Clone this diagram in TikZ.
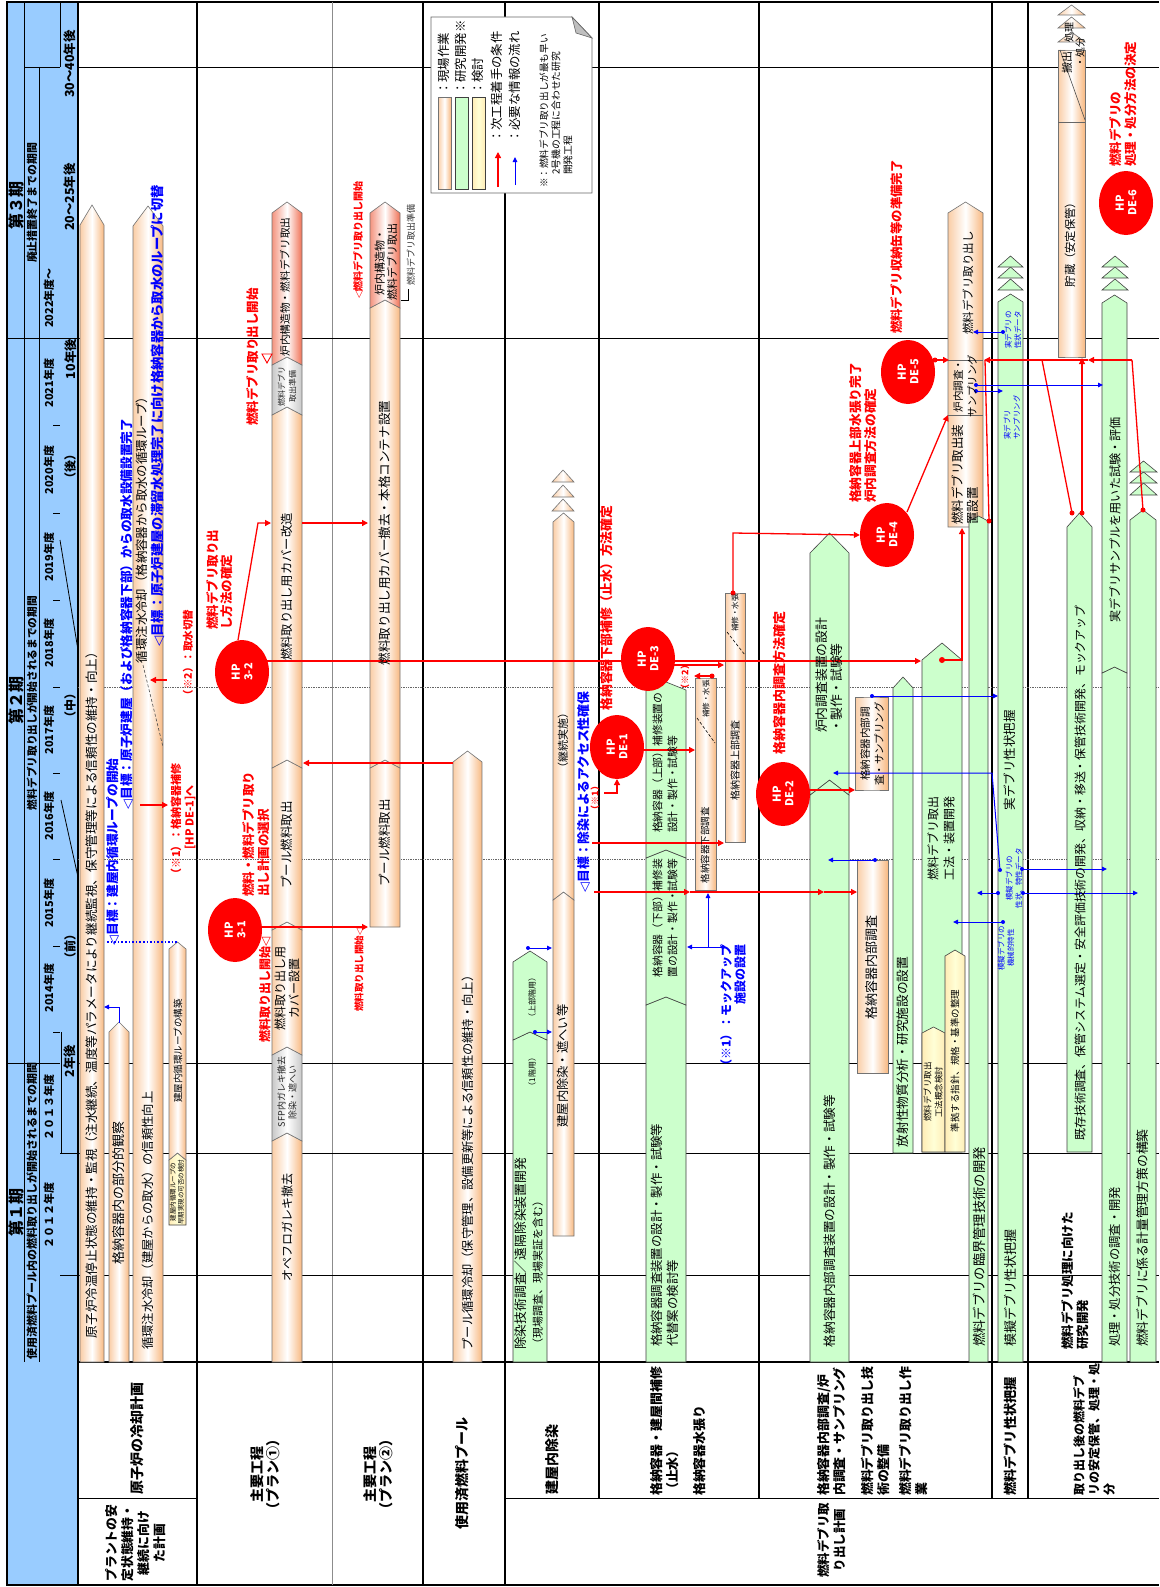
\documentclass[tikz,border=0pt]{standalone}
\usepackage{fontspec}
\setmainfont{Noto Sans CJK JP}
\newfontfamily\dvfont{DejaVu Sans}
\usetikzlibrary{shapes.geometric,arrows.meta}
\pgfdeclarelayer{grid}
\pgfdeclarelayer{bars}
\pgfdeclarelayer{arrows}
\pgfsetlayers{grid,bars,arrows,main}

\definecolor{hdrblue}{RGB}{153,204,255}
\definecolor{orgedge}{RGB}{248,184,128}
\definecolor{rededge}{RGB}{240,112,84}
\definecolor{grnfill}{RGB}{204,255,204}
\definecolor{ylwfill}{RGB}{255,255,214}
\definecolor{gryedge}{RGB}{200,200,200}

\newcommand{\fz}[2]{\fontsize{#1}{#2}\selectfont}
\newcommand{\dn}{{\dvfont ◁}}
% bar segment: style, x1, x2, bottom, shoulder, bottom notch depth, top tip height
\newcommand{\barseg}[7][]{\path[#1] (#2,#4) -- (#2,#5) -- ({(#2+#3)/2},{#5-#7}) -- (#3,#5) -- (#3,#4) -- ({(#2+#3)/2},{#4-#6}) -- cycle;}
% small continuation triangle: style, x1, x2, base, height
\newcommand{\stri}[5][]{\path[#1] (#2,#4) -- ({(#2+#3)/2},{#4-#5}) -- (#3,#4) -- cycle;}

\tikzset{
  bt/.style={rotate=90, inner sep=0pt, font=\fz{#1}{15}}, bt/.default=12.5,
  rbt/.style={rotate=90, inner sep=0pt, text=red, font=\bfseries\fz{#1}{15}}, rbt/.default=12.5,
  bbt/.style={rotate=90, inner sep=0pt, text=blue, font=\bfseries\fz{#1}{15}}, bbt/.default=12.5,
  hdt/.style={rotate=90, inner sep=0pt, font=\bfseries\fz{#1}{14}}, hdt/.default=11,
  cat/.style={rotate=90, inner sep=0pt, font=\bfseries\fz{#1}{16}}, cat/.default=13,
  sbt/.style={rotate=90, inner sep=0pt, text=blue, align=center, font=\fz{7.5}{9.5}},
  orgbar/.style={draw=black!55, line width=0.6pt, left color=orgedge!70, right color=orgedge, middle color=white},
  redbar/.style={draw=black!55, line width=0.6pt, left color=rededge!75, right color=rededge, middle color=white},
  grnbar/.style={draw=black!75, line width=0.6pt, fill=grnfill},
  ylwbar/.style={draw=black!75, line width=0.6pt, left color=ylwfill!85!orange, right color=ylwfill!85!orange, middle color=ylwfill},
  grybar/.style={draw=black!55, line width=0.6pt, left color=gryedge, right color=gryedge, middle color=white},
  redarr/.style={draw=red, line width=1.3pt, -{Triangle[length=6pt,width=6pt]}},
  redln/.style={draw=red, line width=1.3pt},
  bluarr/.style={draw=blue, line width=1pt, -{Triangle[length=5pt,width=4.5pt]}},
  hp/.style={ellipse, fill=red, text=white, rotate=90, inner sep=0pt, minimum width=64pt, minimum height=54pt, align=center, font=\bfseries\fz{11}{12.5}},
}

\begin{document}
\begin{tikzpicture}[x=1pt,y=-1pt]
\useasboundingbox (0,0) rectangle (1159,1587);

% ---------------- table grid ----------------
\begin{pgfonlayer}{grid}
\fill[white] (0,0) rectangle (1159,1587);
\fill[hdrblue] (7,2) rectangle (78,1585);
\draw[line width=2pt] (1159,2) -- (7,2) -- (7,1585) -- (1159,1585);
\draw[line width=2pt] (78,2) -- (78,1585);
\draw[line width=1.8pt] (197,2) -- (197,1585);
\draw[line width=0.8pt, black!45] (332,2) -- (332,1585);
\draw[line width=1.2pt] (423,2) -- (423,1585);
\draw[line width=1.2pt] (505,2) -- (505,1585);
\foreach \x in {599,759,992,1028} \draw[line width=1.2pt] (\x,2) -- (\x,1498);
\draw[line width=0.8pt] (24,2) -- (24,1362);
\draw[line width=0.8pt] (39.5,67) -- (39.5,1362);
\draw[line width=0.8pt] (60,2) -- (60,67);
\draw[line width=0.8pt] (24,67) -- (60,67);
\draw[line width=0.8pt] (78,67) -- (1159,67);
\draw[line width=1pt] (7,338) -- (1159,338);
\draw[line width=1pt] (7,1063) -- (60,1063);
\draw[line width=1pt] (78,1063) -- (1159,1063);
\draw[line width=0.8pt] (60,1153) -- (1159,1153);
\draw[line width=0.8pt] (60,1275) -- (1159,1275);
\draw[line width=0.7pt, black!60, densely dotted] (78,687) -- (1159,687);
\draw[line width=0.7pt, black!60, densely dotted] (78,859) -- (1159,859);
\draw[line width=1.2pt] (78,1362) -- (1159,1362);
\draw[line width=1pt] (78,1498) -- (197,1498);
\draw[line width=1pt] (505,1498) -- (1159,1498);
\foreach \y in {1032,946,859,773,687,600,513,425} \draw[line width=0.8pt] (53,\y) -- (60,\y);
\draw[line width=0.8pt] (61,1032) -- (61,1153);
\draw[line width=0.8pt] (60,540) -- (78,650);
\draw[line width=0.8pt] (61,800) -- (78,877);
\end{pgfonlayer}

% ---------------- header texts ----------------
\node[hdt=16] at (16,1212) {第１期};
\node[hdt=16] at (16,700) {第２期};
\node[hdt=16] at (16,205) {第３期};
\node[hdt=11] at (32,1211) {使用済燃料プール内の燃料取り出しが開始されるまでの期間};
\node[hdt=10.7] at (32,703) {燃料デブリ取り出しが開始されるまでの期間};
\node[hdt=10.9] at (32,203) {廃止措置終了までの期間};
\node[hdt=11] at (49,1215) {２０１２年度};
\node[hdt=11] at (49,1107) {２０１３年度};
\node[hdt=11] at (49,988) {2014年度};
\node[hdt=11] at (49,903) {2015年度};
\node[hdt=11] at (49,816) {2016年度};
\node[hdt=11] at (49,730) {2017年度};
\node[hdt=11] at (49,643) {2018年度};
\node[hdt=11] at (49,557) {2019年度};
\node[hdt=11] at (49,470) {2020年度};
\node[hdt=11] at (49,383) {2021年度};
\node[hdt=11] at (49,298) {2022年度～};
\node[hdt=12.5] at (70,1061) {2年後};
\node[hdt=12] at (70,946) {（前）};
\node[hdt=12] at (70,705) {（中）};
\node[hdt=12] at (70,466) {（後）};
\node[hdt=12.5] at (71,359) {10年後};
\node[hdt=12.5] at (70,197) {20～25年後};
\node[hdt=12.5] at (70,64) {30～40年後};

% ---------------- bars ----------------
\begin{pgfonlayer}{bars}
% reactor cooling
\barseg[orgbar]{80}{104}{1362}{225}{0}{20}
\barseg[orgbar]{109}{129}{1362}{1032}{0}{10}
\barseg[orgbar]{133}{163}{1362}{226}{0}{20}
\draw[densely dashed, black!70, line width=0.6pt] (143,665) -- (163,747);
\barseg[ylwbar]{169}{186}{1225}{1160}{0}{7}
\barseg[orgbar]{169}{186}{1160}{949}{7}{7}
% main process plan 1
\barseg[orgbar]{272}{302}{1362}{1141}{0}{8}
\barseg[grybar]{272}{302}{1141}{1055}{8}{8}
\barseg[orgbar]{272}{302}{1055}{930}{8}{8}
\barseg[orgbar]{272}{302}{930}{768}{8}{8}
\barseg[orgbar]{272}{302}{768}{415}{8}{8}
\barseg[grybar]{272}{302}{415}{365}{8}{8}
\barseg[redbar]{272}{302}{365}{213}{8}{11}
% main process plan 2
\barseg[orgbar]{370}{400}{927}{768}{0}{8}
\barseg[orgbar]{370}{400}{768}{308}{8}{8}
\barseg[redbar]{370}{400}{308}{213}{8}{11}
% spent fuel pool
\barseg[orgbar]{453}{482}{1362}{762}{0}{11}
% decontamination
\barseg[grnbar]{513}{547}{1362}{1040}{0}{8}
\barseg[grnbar]{513}{547}{1040}{962}{8}{11}
\barseg[orgbar]{553}{574}{1236}{900}{0}{8}
\barseg[orgbar]{553}{574}{900}{522}{8}{9}
\stri[orgbar]{552}{574}{511}{12}
\stri[orgbar]{552}{574}{497}{12}
\stri[orgbar]{552}{574}{482}{12}
% containment repair
\barseg[grnbar]{646}{686}{1362}{1005}{0}{8}
\barseg[grnbar]{646}{686}{1005}{858}{8}{8}
\barseg[grnbar]{646}{686}{858}{690}{8}{8}
\barseg[orgbar]{695}{716}{890}{678}{0}{0}
\draw[densely dashed, line width=0.6pt] (697,718) -- (715,743);
\barseg[orgbar]{725}{745}{842}{593}{0}{0}
\draw[densely dashed, line width=0.6pt] (727,632) -- (745,655);
% investigation / retrieval
\barseg[grnbar]{810}{849}{1362}{795}{0}{15}
\barseg[grnbar]{810}{849}{795}{553}{15}{20}
\barseg[orgbar]{855}{888}{790}{697}{0}{0}
\barseg[orgbar]{857}{888}{1073}{860}{0}{0}
\barseg[grnbar]{893}{913}{1153}{688}{0}{11}
\barseg[grnbar]{922}{962}{1152}{660}{0}{17}
\barseg[ylwbar]{922}{945}{1152}{1033}{0}{6}
\barseg[ylwbar]{945}{965}{1152}{956}{0}{6}
\barseg[orgbar]{948}{983}{527}{213}{0}{11}
\draw[black!60, line width=0.6pt] (948,415) -- (983,415);
\draw[black!60, line width=0.6pt] (948,360) -- (983,360);
\barseg[grnbar]{969}{988}{1362}{521}{0}{5}
% debris characterisation
\barseg[grnbar]{998}{1023}{1362}{302}{0}{8}
\stri[grnbar]{998}{1023}{290}{11}
\stri[grnbar]{998}{1023}{278}{11}
\stri[grnbar]{998}{1023}{267}{11}
% storage / processing
\barseg[orgbar]{1058}{1085}{357}{50}{0}{0}
\draw[black!60, line width=0.8pt] (1058,122) -- (1085,122);
\draw[black!70, line width=0.6pt] (1060,50) -- (1085,120);
\stri[orgbar]{1058}{1085}{42}{10}
\stri[orgbar]{1058}{1085}{28}{11}
\stri[orgbar]{1058}{1085}{15}{10}
\barseg[grnbar]{1067}{1092}{1152}{527}{0}{14}
\barseg[grnbar]{1102}{1127}{1362}{673}{0}{6}
\barseg[grnbar]{1102}{1127}{673}{303}{6}{8}
\stri[grnbar]{1102}{1128}{290}{11}
\stri[grnbar]{1102}{1128}{278}{11}
\stri[grnbar]{1102}{1128}{267}{11}
\barseg[grnbar]{1130}{1156}{1362}{520}{0}{10}
\stri[grnbar]{1130}{1157}{495}{12}
\stri[grnbar]{1130}{1157}{483}{11}
\stri[grnbar]{1130}{1157}{472}{11}
% legend
\path[draw=black!60, fill=white, line width=0.8pt] (431,17) -- (572,17) -- (592,38) -- (592,193) -- (431,193) -- cycle;
\path[draw=black!60, fill=black!25, line width=0.6pt] (572,17) -- (576,33) -- (592,38) -- cycle;
\path[orgbar] (438,97) rectangle (451,189);
\path[grnbar] (455,97) rectangle (468,189);
\path[ylwbar] (472,97) rectangle (485,189);
\end{pgfonlayer}

% ---------------- hold points ----------------
\node[hp] (hp31) at (235,930) {HP\\3-1};
\node[hp] (hp32) at (242,672) {HP\\3-2};
\node[hp] (hpde1) at (617,747) {HP\\DE-1};
\node[hp] (hpde3) at (648,659) {HP\\DE-3};
\node[hp] (hpde2) at (783,794) {HP\\DE-2};
\node[hp] (hpde4) at (887,535) {HP\\DE-4};
\node[hp] (hpde5) at (908,372) {HP\\DE-5};
\node[hp] (hpde6) at (1126,203) {HP\\DE-6};

% ---------------- connectors ----------------
\begin{pgfonlayer}{arrows}
\draw[redarr] (hp31.center) ++(0,-3) -- (368,927);
\draw[redarr] (hp32.center) ++(0,-11) -- (921,661);
\draw[redarr] (hp32.center) ++(-4,-32) -- (258,523) -- (271,523);
\draw[redarr] (302,523) -- (368,523);
\draw[redarr] (453,763) -- (303,763);
\draw[redarr] (140,805) -- (168,805);
\draw[redarr] (167,680) -- (150,680);
\draw[bluarr] (119,1023) -- (119,1007) -- (104,1007);
\draw[blue, line width=1.6pt, dotted] (107,942) -- (178,942);
\fill[blue] (528,948) circle (2); \draw[bluarr] (528,948) -- (552,948);
\fill[blue] (535,1032) circle (2); \draw[bluarr] (535,1032) -- (552,1032);
\draw[redarr] (592,843) -- (724,843);
\draw[redarr] (594,892) -- (690,892);
\draw[redarr] (690,892) -- (824,892);
\draw[redarr] (824,892) -- (857,892);
\draw[redarr] (604,793) -- (617,793) -- (617,779);
\draw[redarr] (hpde1.center) ++(0,3) -- (695,750);
\draw[redarr] (hpde3.center) ++(0,6) -- (724,665);
\fill[red] (712,676) circle (2.5); \draw[redarr] (712,676) -- (694,676);
\fill[red] (733,593) circle (2.5); \draw[redarr] (733,593) -- (733,533) -- (hpde4.north);
\draw[redarr] (hpde4.center) ++(20,-23) -- (948,415);
\fill[red] (935,360) circle (2.5); \draw[redarr] (935,360) -- (949,360);
\draw[redarr] (hpde2.center) ++(0,-4) -- (855,790);
\fill[red] (942,660) circle (3); \draw[redarr] (942,660) -- (962,660) -- (962,528);
\fill[blue] (872,696) circle (2); \draw[bluarr] (872,696) -- (998,696);
\fill[blue] (875,860) circle (2); \draw[bluarr] (875,860) -- (828,860);
\fill[blue] (1000,870) circle (2); \draw[bluarr] (1000,870) -- (992,773) -- (833,773);
\fill[blue] (723,947) circle (2); \draw[bluarr] (723,947) -- (687,947);
\draw[bluarr] (708,947) -- (708,893);
\fill[red] (989,521) circle (2.5); \draw[redln] (989,521) -- (985,360);
\fill[red] (1072,513) circle (2.5); \draw[redln] (1072,513) -- (1042,360);
\fill[red] (1082,513) circle (2.5); \draw[redarr] (1082,513) -- (1082,358);
\fill[red] (1143,510) circle (2.5); \draw[redln] (1143,510) -- (1132,360);
\draw[redarr] (1132,360) -- (1088,360);
\draw[redarr] (1088,360) -- (984,360);
\fill[blue] (1003,332) circle (2); \draw[bluarr] (1003,332) -- (973,332);
\fill[blue] (976,385) circle (2); \draw[bluarr] (976,385) -- (1103,385);
\fill[blue] (976,391) circle (2); \draw[bluarr] (976,391) -- (1003,391);
\fill[blue] (1022,869) circle (2); \draw[bluarr] (1022,869) -- (1107,869);
\fill[blue] (998,893) circle (2); \draw[bluarr] (998,893) -- (977,893);
\fill[blue] (1023,893) circle (2); \draw[bluarr] (1023,893) -- (1138,893);
\fill[blue] (1003,922) circle (2); \draw[bluarr] (1003,922) -- (953,922);
% legend arrows
\draw[redarr] (498,187) -- (498,152);
\draw[bluarr] (515,185) -- (515,157);
\draw[line width=0.6pt] (401,300) -- (408,300) -- (408,289);
\draw[red, line width=0.9pt] (262,354) -- (272,354) -- (267,363) -- cycle;
\end{pgfonlayer}

% ---------------- bar labels ----------------
\node[bt=12.6] at (92,992) {原子炉冷温停止状態の維持・監視（注水継続、温度等パラメータにより継続監視、保守管理等による信頼性の維持・向上）};
\node[bt=13] at (119,1193) {格納容器内の部分的観察};
\node[bt=12.3, anchor=west] at (148,1350) {循環注水冷却（建屋からの取水）の信頼性向上};
\node[bt=12.4] at (142,527) {循環注水冷却（格納容器から取水の循環ループ）};
\node[bbt=12.7] at (113,852) {\dn 目標：建屋内循環ループの開始};
\node[bbt=12.7] at (127,614) {\dn 目標：原子炉建屋（および格納容器下部）からの取水設備設置完了};
\node[bbt=13.3] at (158,416) {\dn 目標：原子炉建屋の滞留水処理完了に向け格納容器から取水のループに切替};
\node[rbt=11, anchor=west] at (176,880) {（※1）：格納容器補修};
\node[rbt=11, anchor=west] at (190,850) {[HP DE-1]へ};
\node[rbt=10.5] at (188,655) {（※2）：取水切替};
\node[bt=9.5] at (178,1051) {建屋内循環ループの構築};
\node[bt, font=\fz{6.5}{8}, align=center] at (177,1192) {建屋内循環ループの\\早期実現の可否の検討};

\node[bt=12] at (287,1227) {オペフロガレキ撤去};
\node[bt, font=\fz{9}{11}, align=center, text=black!85] at (287,1092) {SFP内ガレキ撤去\\除染・遮へい};
\node[bt, font=\fz{12}{14}, align=center] at (287,988) {燃料取り出し用\\カバー設置};
\node[bt=12.5] at (287,845) {プール燃料取出};
\node[bt=12.3] at (287,587) {燃料取り出し用カバー改造};
\node[bt, font=\fz{8}{11}, align=center, text=black!85] at (287,386) {燃料デブリ\\取出準備};
\node[bt=10.7] at (285,287) {炉内構造物・燃料デブリ取出};
\node[rbt=12] at (265,990) {燃料取り出し開始\dn};
\node[rbt, align=left, anchor=west] at (256,897) {燃料・燃料デブリ取り\\出し計画の選択};
\node[rbt, font=\bfseries\fz{12.5}{14}, align=left, anchor=west] at (220,630) {燃料デブリ取り出\\し方法の確定};
\node[rbt=12.5] at (253,357) {燃料デブリ取り出し開始};

\node[bt=12.5] at (385,843) {プール燃料取出};
\node[bt=12.6] at (385,533) {燃料取り出し用カバー撤去・本格コンテナ設置};
\node[bt, font=\fz{11}{12.5}, align=center] at (386,262) {炉内構造物・\\燃料デブリ取出};
\node[rbt=9.5] at (359,970) {燃料取り出し開始\dn};
\node[rbt=10] at (358,240) {\dn 燃料デブリ取り出し開始};
\node[bt=9, anchor=west, text=black!80] at (411,286) {燃料デブリ取出準備};

\node[bt=12.3] at (468,1160) {プール循環冷却（保守管理、設備更新等による信頼性の維持・向上）};

\node[bt, font=\fz{12.8}{16}, align=left, anchor=west] at (529,1350) {除染技術調査／遠隔除染装置開発\\{\fz{11}{11}（現場調査、現場実証を含む）}};
\node[bt=8] at (532,1072) {（1階用）};
\node[bt=8] at (532,997) {（上部階用）};
\node[bt=12.3] at (563,1066) {建屋内除染・遮へい等};
\node[bt=11] at (563,740) {（継続実施）};
\node[bbt=12.8] at (584,792) {\dn 目標：除染によるアクセス性確保};
\node[rbt=9] at (595,798) {（※1）};

\node[bt, font=\fz{12.4}{16}, align=left, anchor=west] at (665,1347) {格納容器調査装置の設計・製作・試験等\\代替案の検討等};
\node[bt, font=\fz{10.8}{15}, align=center] at (665,918) {格納容器（下部）補修装\\置の設計・製作・試験等};
\node[bt, font=\fz{10.8}{15}, align=left, anchor=west] at (665,833) {格納容器（上部）補修装置の\\設計・製作・試験等};
\node[bt=7.5] at (706,699) {補修・水張};
\node[bt=9.5] at (705,845) {格納容器下部調査};
\node[bt=7.5] at (735,613) {補修・水張};
\node[bt=10] at (735,760) {格納容器上部調査};
\node[rbt=9] at (685,677) {（※2）};
\node[rbt=12.8] at (607,608) {格納容器下部補修（止水）方法確定};
\node[rbt=13] at (780,683) {格納容器内調査方法確定};
\node[bbt, font=\bfseries\fz{12}{14}, align=right, anchor=east] at (733,944) {（※1）：モックアップ\\施設の設置};

\node[bt=12.6] at (830,1221) {格納容器内部調査装置の設計・製作・試験等};
\node[bt, font=\fz{12.8}{15}, align=left, anchor=west] at (829,733) {炉内調査装置の設計\\・製作・試験等};
\node[bt, font=\fz{10.5}{14}, align=center] at (872,744) {格納容器内部調\\査・サンプリング};
\node[bt=13] at (872,967) {格納容器内部調査};
\node[bt=12.7] at (903,1052) {放射性物質分析・研究施設の設置};
\node[bt, font=\fz{12}{16}, align=center] at (941,838) {燃料デブリ取出\\工法・装置開発};
\node[bt, font=\fz{8.5}{11}, align=center] at (933,1092) {燃料デブリ取出\\工法概念検討};
\node[bt=9.5] at (955,1061) {準拠する指針、規格・基準の整理};
\node[bt, font=\fz{12.5}{15}, align=left, anchor=west] at (965,525) {燃料デブリ取出装\\置設置};
\node[bt, font=\fz{10.5}{14}, align=center] at (965,386) {炉内調査・\\サンプリング};
\node[bt=11.5] at (968,283) {燃料デブリ取り出し};
\node[rbt, font=\bfseries\fz{12.7}{15}, align=left, anchor=west] at (863,503) {格納容器上部水張り完了\\炉内調査方法の確定};
\node[rbt=12.4] at (897,247) {燃料デブリ収納缶等の準備完了};
\node[bt=13.3] at (979,1247) {燃料デブリの臨界管理技術の開発};

\node[bt=13] at (1010,1288) {模擬デブリ性状把握};
\node[bt=12.5] at (1010,760) {実デブリ性状把握};
\node[sbt] at (1013,330) {実デブリの\\性状データ};
\node[sbt, align=left, anchor=west] at (1012,440) {実デブリ\\サンプリング};
\node[sbt] at (1014,878) {模擬デブリの\\性状、特性データ};
\node[sbt] at (1006,948) {模擬デブリの\\機械的特性};

\node[bt=11.3] at (1070,242) {貯蔵（安定保管）};
\node[bt=11] at (1067,63) {搬出};
\node[bt=10] at (1069,33) {処理};
\node[bt=10] at (1080,52) {・処分};
\node[bt=11.9] at (1080,873) {既存技術調査、保管システム選定・安全評価技術の開発、収納・移送・保管技術開発、モックアップ};
\node[bt=12.3] at (1115,1267) {処理・処分技術の調査・開発};
\node[bt=12.1] at (1115,520) {実デブリサンプルを用いた試験・評価};
\node[bt=12.8] at (1143,1238) {燃料デブリに係る計量管理方策の構築};
\node[bt, font=\bfseries\fz{12.5}{15}, align=left, anchor=west] at (1075,1350) {燃料デブリ処理に向けた\\研究開発};
\node[rbt, align=left, anchor=west] at (1123,167) {燃料デブリの\\処理・処分方法の決定};

% ---------------- legend texts ----------------
\node[bt=12.4, anchor=west] at (444,95) {：現場作業};
\node[bt=12.4, anchor=west] at (461,95) {：研究開発※};
\node[bt=12.4, anchor=west] at (478,95) {：検討};
\node[bt=12.4, anchor=west] at (497,143) {：次工程着手の条件};
\node[bt=12.4, anchor=west] at (515,143) {：必要な情報の流れ};
\node[bt=9.6, anchor=west] at (544,188) {※：燃料デブリ取り出しが最も早い};
\node[bt, font=\fz{9.8}{12}, align=left, anchor=west] at (562,175) {2号機の工程に合わせた研究\\開発工程};

% ---------------- category labels ----------------
\node[cat=14, anchor=west] at (137,1495) {原子炉の冷却計画};
\node[cat=12.8, align=center] at (136,1543) {プラントの安\\定状態維持・\\継続に向け\\た計画};
\node[cat=14, align=center] at (265,1474) {主要工程\\（プラン①）};
\node[cat=14, align=center] at (378,1474) {主要工程\\（プラン②）};
\node[cat=14] at (462,1473) {使用済燃料プール};
\node[cat=14, anchor=west] at (552,1495) {建屋内除染};
\node[cat=12.9, align=left, anchor=west] at (665,1496) {格納容器・建屋間補修\\（止水）};
\node[cat=12.9, anchor=west] at (700,1496) {格納容器水張り};
\node[cat=12.9, align=left, anchor=west] at (832,1496) {格納容器内部調査/炉\\内調査・サンプリング};
\node[cat=12.9, align=left, anchor=west] at (875,1496) {燃料デブリ取り出し技\\術の整備};
\node[cat=12.9, align=left, anchor=west] at (913,1496) {燃料デブリ取り出し作\\業};
\node[cat=13.2, anchor=west] at (1010,1496) {燃料デブリ性状把握};
\node[cat, font=\bfseries\fz{12}{15}, align=left, anchor=west] at (1094,1496) {取り出し後の燃料デブ\\リの安定保管、処理・処\\分};
\node[cat=12.5, align=center] at (832,1540) {燃料デブリ取\\り出し計画};
\end{tikzpicture}
\end{document}
